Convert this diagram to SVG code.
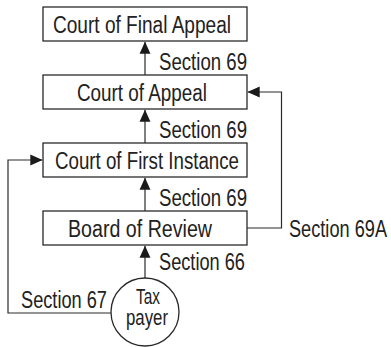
<svg xmlns="http://www.w3.org/2000/svg" width="391" height="347" viewBox="0 0 391 347">
<style>
.box{fill:#fff;stroke:#2a2a2a;stroke-width:1.3}
.lbl{font-family:"Liberation Sans",Arial,sans-serif;font-size:23px;fill:#222}
.sm{font-size:22px}
.con{fill:none;stroke:#2a2a2a;stroke-width:1.2}
</style>
<defs>
<marker id="ah" markerUnits="userSpaceOnUse" markerWidth="12" markerHeight="12" refX="11" refY="5" orient="auto" viewBox="0 0 11 10">
<path d="M0,0 L11,5 L0,10 Z" fill="#1a1a1a"/>
</marker>
</defs>
<rect width="391" height="347" fill="#fff"/>
<g id="connectors">
<line class="con" x1="145" y1="75" x2="145" y2="41.7" marker-end="url(#ah)"/>
<line class="con" x1="145" y1="143" x2="145" y2="109.7" marker-end="url(#ah)"/>
<line class="con" x1="145" y1="211" x2="145" y2="177.7" marker-end="url(#ah)"/>
<line class="con" x1="145" y1="278" x2="145" y2="245.7" marker-end="url(#ah)"/>
<polyline class="con" points="111,313 8,313 8,160 42.3,160" marker-end="url(#ah)"/>
<polyline class="con" points="247,228 281.5,228 281.5,92 247.7,92" marker-end="url(#ah)"/>
<text class="lbl" x="159" y="70" textLength="88" lengthAdjust="spacingAndGlyphs">Section 69</text>
<text class="lbl" x="159" y="138" textLength="88" lengthAdjust="spacingAndGlyphs">Section 69</text>
<text class="lbl" x="159" y="206" textLength="88" lengthAdjust="spacingAndGlyphs">Section 69</text>
<text class="lbl" x="159" y="270" textLength="86" lengthAdjust="spacingAndGlyphs">Section 66</text>
<text class="lbl" x="289" y="237" textLength="98" lengthAdjust="spacingAndGlyphs">Section 69A</text>
<text class="lbl" x="21" y="308" textLength="86" lengthAdjust="spacingAndGlyphs">Section 67</text>
</g>
<g id="court-final-appeal">
<rect class="box" x="43" y="7" width="204" height="34"/>
<text class="lbl" x="53" y="33" textLength="178" lengthAdjust="spacingAndGlyphs">Court of Final Appeal</text>
</g>
<g id="court-appeal">
<rect class="box" x="43" y="75" width="204" height="34"/>
<text class="lbl" x="77" y="101" textLength="130" lengthAdjust="spacingAndGlyphs">Court of Appeal</text>
</g>
<g id="court-first-instance">
<rect class="box" x="43" y="143" width="204" height="34"/>
<text class="lbl" x="55" y="169" textLength="184" lengthAdjust="spacingAndGlyphs">Court of First Instance</text>
</g>
<g id="board-review">
<rect class="box" x="43" y="211" width="204" height="34"/>
<text class="lbl" x="68" y="237" textLength="144" lengthAdjust="spacingAndGlyphs">Board of Review</text>
</g>
<g id="taxpayer">
<circle class="box" cx="145" cy="312" r="34"/>
<text class="lbl sm" x="136" y="304" textLength="24" lengthAdjust="spacingAndGlyphs">Tax</text>
<text class="lbl sm" x="126" y="325" textLength="42" lengthAdjust="spacingAndGlyphs">payer</text>
</g>
</svg>
